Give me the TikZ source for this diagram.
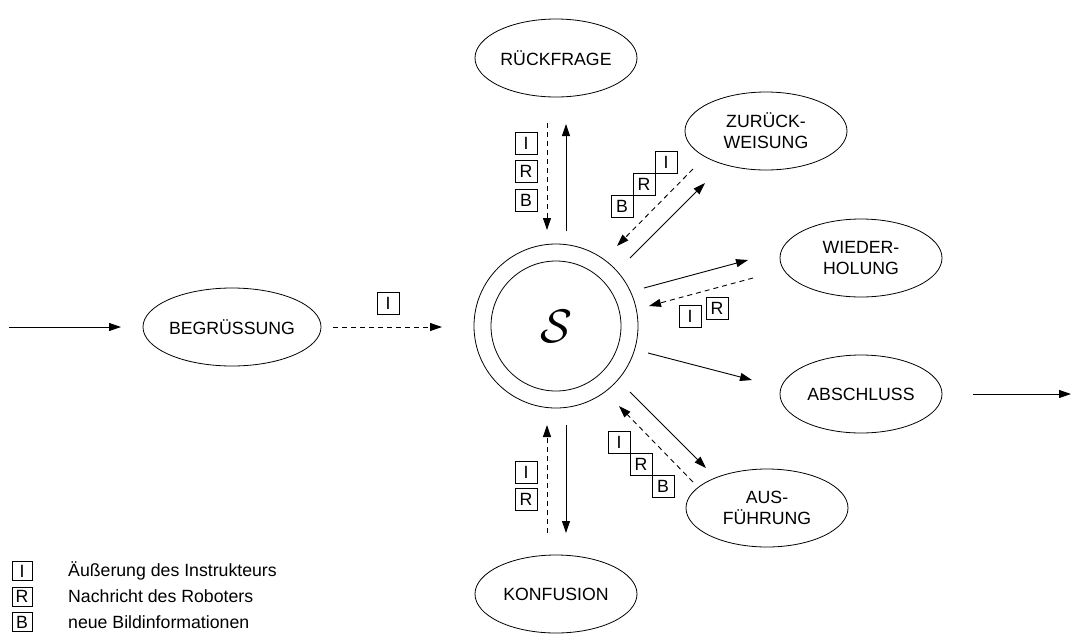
\documentclass[tikz,border=0pt]{standalone}
\usepackage{fontspec}
\setmainfont{Liberation Sans}
\usetikzlibrary{arrows.meta,shapes.geometric}
\begin{document}
\begin{tikzpicture}[x=1pt,y=-1pt,
  every node/.style={font=\fontsize{17.7}{21}\selectfont, text=black},
  state/.style={draw, ellipse, line width=0.8pt, minimum width=162pt, minimum height=78pt, inner sep=0pt, align=center},
  msg/.style={draw, line width=0.8pt, minimum size=22pt, inner sep=0pt},
  keybox/.style={draw, line width=0.8pt, minimum width=20pt, minimum height=19pt, inner sep=0pt},
  keytext/.style={anchor=west, inner sep=0pt},
  flow/.style={line width=0.9pt, -{Triangle[length=12pt,width=8pt]}},
  reply/.style={flow, dash pattern=on 5pt off 4pt},
]
\useasboundingbox (0,0) rectangle (1072,633);

% central state
\node[circle, draw, line width=0.8pt, minimum size=164pt, inner sep=0pt] (outer) at (556,326) {};
\node[circle, draw, line width=0.8pt, minimum size=130pt, inner sep=0pt] (inner) at (556,326) {};
\node[scale=4.7] (sym) at (556,326) {\fontsize{10}{12}\selectfont$\mathcal{S}$};

% surrounding states
\node[state] (begr)  at (232,327) {BEGRÜSSUNG};
\node[state] (rueck) at (556,58)  {RÜCKFRAGE};
\node[state] (zur)   at (766,131) {ZURÜCK-\\WEISUNG};
\node[state] (wied)  at (861,258) {WIEDER-\\HOLUNG};
\node[state] (absch) at (861,394) {ABSCHLUSS};
\node[state] (ausf)  at (767,508) {AUS-\\FÜHRUNG};
\node[state] (konf)  at (556,594) {KONFUSION};

% arrow end points
\coordinate (in0) at (9,327);    \coordinate (in1) at (121,327);
\coordinate (out0) at (973,394); \coordinate (out1) at (1071,394);
\coordinate (b0) at (333,327);   \coordinate (b1) at (442,327);
\coordinate (r0) at (547,123);   \coordinate (r1) at (547,230);
\coordinate (r2) at (566,231);   \coordinate (r3) at (566,124);
\coordinate (z0) at (630,258);   \coordinate (z1) at (705,183);
\coordinate (z2) at (693,169);   \coordinate (z3) at (617,246);
\coordinate (w0) at (644,288);   \coordinate (w1) at (748,260);
\coordinate (w2) at (753,278);   \coordinate (w3) at (649,306);
\coordinate (a0) at (648,353);   \coordinate (a1) at (752,380);
\coordinate (f0) at (630,392);   \coordinate (f1) at (706,468);
\coordinate (f2) at (693,482);   \coordinate (f3) at (619,406);
\coordinate (k0) at (547,533);   \coordinate (k1) at (547,425);
\coordinate (k2) at (566,425);   \coordinate (k3) at (566,533);

% transitions
\draw[flow]  (in0) -- (in1);
\draw[flow]  (out0) -- (out1);
\draw[reply] (b0) -- (b1);
\draw[reply] (r0) -- (r1);
\draw[flow]  (r2) -- (r3);
\draw[flow]  (z0) -- (z1);
\draw[reply] (z2) -- (z3);
\draw[flow]  (w0) -- (w1);
\draw[reply] (w2) -- (w3);
\draw[flow]  (a0) -- (a1);
\draw[flow]  (f0) -- (f1);
\draw[reply] (f2) -- (f3);
\draw[reply] (k0) -- (k1);
\draw[flow]  (k2) -- (k3);

% message markers
\node[msg] (bI) at (388,303) {I};
\node[msg] (rI) at (526,143.5) {I};
\node[msg] (rR) at (526,171.5) {R};
\node[msg] (rB) at (526,200) {B};
\node[msg] (zB) at (622,206) {B};
\node[msg] (zR) at (644,184) {R};
\node[msg] (zI) at (666,162) {I};
\node[msg] (wI) at (690,316) {I};
\node[msg] (wR) at (717,308) {R};
\node[msg] (fI) at (619,442) {I};
\node[msg] (fR) at (641,464) {R};
\node[msg] (fB) at (663,486) {B};
\node[msg] (kI) at (526,472) {I};
\node[msg] (kR) at (526,499) {R};

% key
\node[keybox] (lI) at (22,571) {I};
\node[keybox] (lR) at (22,596.5) {R};
\node[keybox] (lB) at (22,622) {B};
\node[keytext] (tI) at (68,571) {Äußerung des Instrukteurs};
\node[keytext] (tR) at (68,596.5) {Nachricht des Roboters};
\node[keytext] (tB) at (68,622) {neue Bildinformationen};
\end{tikzpicture}
\end{document}
